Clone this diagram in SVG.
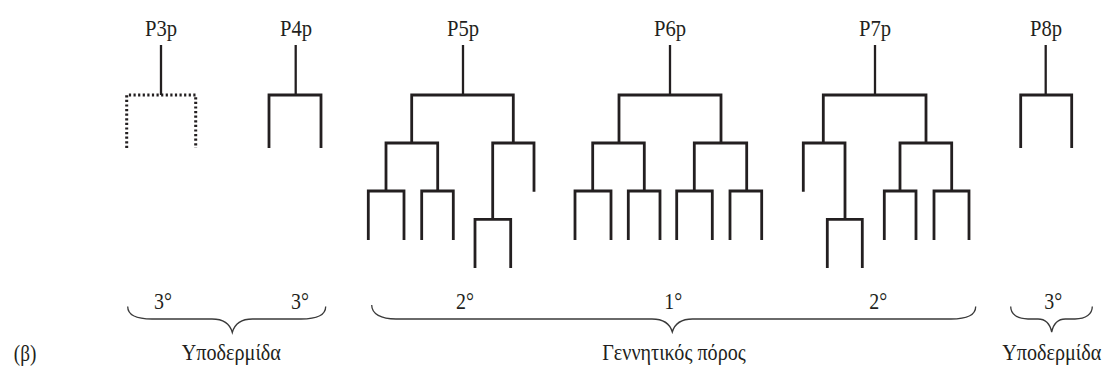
<svg xmlns="http://www.w3.org/2000/svg" width="1114" height="375" viewBox="0 0 1114 375">
<style>
text{font-family:'Liberation Serif','Times New Roman',serif;fill:#231f20;text-anchor:middle;font-size:24px;}
.ln{fill:none;stroke:#231f20;stroke-width:2.8;stroke-linecap:butt;stroke-linejoin:miter;}
.stem{fill:none;stroke:#231f20;stroke-width:2.3;}
.dot{fill:none;stroke:#231f20;stroke-width:3;stroke-dasharray:2.2 2.4;}
.br{fill:none;stroke:#3a3a3a;stroke-width:1.3;}
</style>
<rect width="1114" height="375" fill="#ffffff"/>
<g id="P3p">
<text transform="translate(161,36) scale(0.86,1)">P3p</text>
</g>
<g id="P4p">
<text transform="translate(296,36) scale(0.86,1)">P4p</text>
</g>
<g id="P5p">
<text transform="translate(463,36) scale(0.86,1)">P5p</text>
</g>
<g id="P6p">
<text transform="translate(670,36) scale(0.86,1)">P6p</text>
</g>
<g id="P7p">
<text transform="translate(875,36) scale(0.86,1)">P7p</text>
</g>
<g id="P8p">
<text transform="translate(1046,36) scale(0.86,1)">P8p</text>
</g>
<g id="connectors">
<path class="stem" d="M161,45 V95"/>
<path class="dot" d="M126.7,148 V95 H195.7 V148"/>
<path class="stem" d="M295.7,45 V95"/>
<path class="ln" d="M269,148 V95 H321 V148"/>
<path class="stem" d="M463,45 V95"/>
<path class="ln" d="M411.7,143 V95 H513.3 V143"/>
<path class="ln" d="M386,191 V143 H437.7 V191"/>
<path class="ln" d="M492.7,219.3 V143 H534 V191.7"/>
<path class="ln" d="M368.3,240 V191 H404 V240"/>
<path class="ln" d="M421.7,240 V191 H453.3 V240"/>
<path class="ln" d="M475,268 V219.3 H510.7 V268"/>
<path class="stem" d="M670,45 V95"/>
<path class="ln" d="M619,143 V95 H721 V143"/>
<path class="ln" d="M592.7,191 V143 H644.3 V191"/>
<path class="ln" d="M694.3,191 V143 H746.7 V191"/>
<path class="ln" d="M575,240 V191 H611 V240"/>
<path class="ln" d="M628.3,240 V191 H660 V240"/>
<path class="ln" d="M676.7,240 V191 H712.3 V240"/>
<path class="ln" d="M730,240 V191 H761.7 V240"/>
<path class="stem" d="M875,45 V95"/>
<path class="ln" d="M823.3,143 V95 H926 V143"/>
<path class="ln" d="M803.3,191.7 V143 H845 V219.3"/>
<path class="ln" d="M827.3,268 V219.3 H862.3 V268"/>
<path class="ln" d="M900,191 V143 H951.7 V191"/>
<path class="ln" d="M884.3,240 V191 H916 V240"/>
<path class="ln" d="M934,240 V191 H969 V240"/>
<path class="stem" d="M1045.7,45 V95"/>
<path class="ln" d="M1020.7,148 V95 H1071.7 V148"/>
</g>
<g id="braces">
<path class="br" d="M127.7,306.5 C127.7,315 137,319 152,319 L212,319 C224,319 230,324 232.3,332.5 C234.6,324 240.6,319 252.6,319 L301,319 C316,319 325.7,315 325.7,306.5"/>
<path class="br" d="M371.7,305 C371.7,314 381,319 396,319 L652,319 C664,319 670,324 672.3,332 C674.6,324 680.6,319 692.6,319 L951,319 C966,319 975.7,315 975.7,306.5"/>
<path class="br" d="M1010.7,306.5 C1010.7,314 1017,319 1028,319 L1038,319 C1046,319 1050,324 1051.7,332 C1053.4,324 1057.4,319 1065.4,319 L1075,319 C1086,319 1092.3,314 1092.3,306.5"/>
</g>
<g id="labels">
<text transform="translate(163,309) scale(0.83,1)">3°</text>
<text transform="translate(300,309) scale(0.83,1)">3°</text>
<text transform="translate(465,309) scale(0.83,1)">2°</text>
<text transform="translate(673.3,309) scale(0.83,1)">1°</text>
<text transform="translate(878.3,309) scale(0.83,1)">2°</text>
<text transform="translate(1053.3,309) scale(0.83,1)">3°</text>
<text transform="translate(25,361) scale(0.8,1)" font-size="22">(β)</text>
<text transform="translate(231.3,360) scale(0.84,1)">Υποδερμίδα</text>
<text transform="translate(674,360) scale(0.84,1)">Γεννητικός πόρος</text>
<text transform="translate(1051.7,360) scale(0.84,1)">Υποδερμίδα</text>
</g>
</svg>
